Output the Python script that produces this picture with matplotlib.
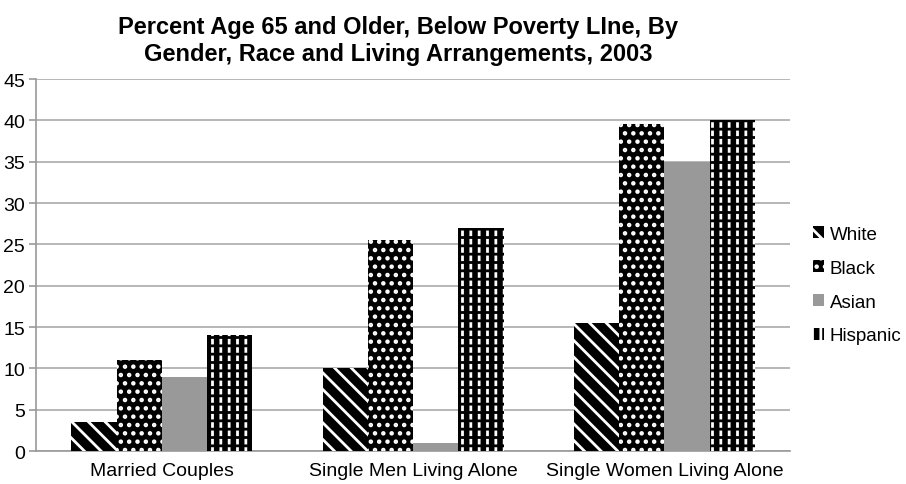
import numpy as np
import matplotlib.pyplot as plt

plt.rcParams['font.family'] = ['Liberation Sans', 'DejaVu Sans']
plt.rcParams['hatch.linewidth'] = 2.0

categories = ['Married Couples', 'Single Men Living Alone', 'Single Women Living Alone']
series = ['White', 'Black', 'Asian', 'Hispanic']
white = [3.5, 10, 15.5]
black = [11, 25.5, 39.5]
asian = [9, 1, 35]
hispanic = [14, 27, 40]

fig = plt.figure(figsize=(9.06, 4.85), dpi=100)
ax = fig.add_axes([0.040, 0.068, 0.832, 0.767])

x = np.arange(len(categories))
w = 0.18
offs = [-1.5 * w, -0.5 * w, 0.5 * w, 1.5 * w]

# white: diagonal black/white stripes (white stripes over black fill)
b1 = ax.bar(x + offs[0], white, w, color='black', edgecolor='white', linewidth=0,
            hatch='\\\\', zorder=3, label='White')
# black: white dots on black
b2 = ax.bar(x + offs[1], black, w, color='black', edgecolor='white', linewidth=0,
            hatch='..', zorder=3, label='Black')
b3 = ax.bar(x + offs[2], asian, w, color='#999999', linewidth=0, zorder=3, label='Asian')
# hispanic: white vertical dashes on black (white lines cut by black bands)
b4 = ax.bar(x + offs[3], hispanic, w, color='black', edgecolor='white', linewidth=0,
            hatch='||', zorder=3, label='Hispanic')
ax.bar(x + offs[3], hispanic, w, color='none', edgecolor='black', linewidth=0,
       hatch='--', zorder=4)

ax.set_xlim(-0.5, 2.5)
ax.set_ylim(0, 45)
ax.set_yticks(range(0, 46, 5))
ax.set_xticks(x)
ax.set_xticklabels(categories, fontsize=14)
ax.tick_params(axis='y', labelsize=14, color='#999999', length=5, width=1.2, pad=3)
ax.tick_params(axis='x', length=0, pad=8)
ax.yaxis.grid(True, color='#aaaaaa', linewidth=1.2, zorder=0)
ax.set_axisbelow(True)
for s in ['top', 'right']:
    ax.spines[s].set_visible(False)
for s in ['left', 'bottom']:
    ax.spines[s].set_color('#999999')
    ax.spines[s].set_linewidth(1.2)

ax.set_title('Percent Age 65 and Older, Below Poverty LIne, By\nGender, Race and Living Arrangements, 2003',
             fontsize=17, fontweight='bold', pad=14, x=0.48)

fig.legend(handles=[b1, b2, b3, b4], labels=series, loc='center left', bbox_to_anchor=(0.893, 0.41),
           frameon=False, fontsize=13.5, handlelength=0.6, handleheight=0.6, handletextpad=0.3,
           labelspacing=0.9, borderpad=0.1, borderaxespad=0.1)

fig.savefig('out.png', dpi=100)
